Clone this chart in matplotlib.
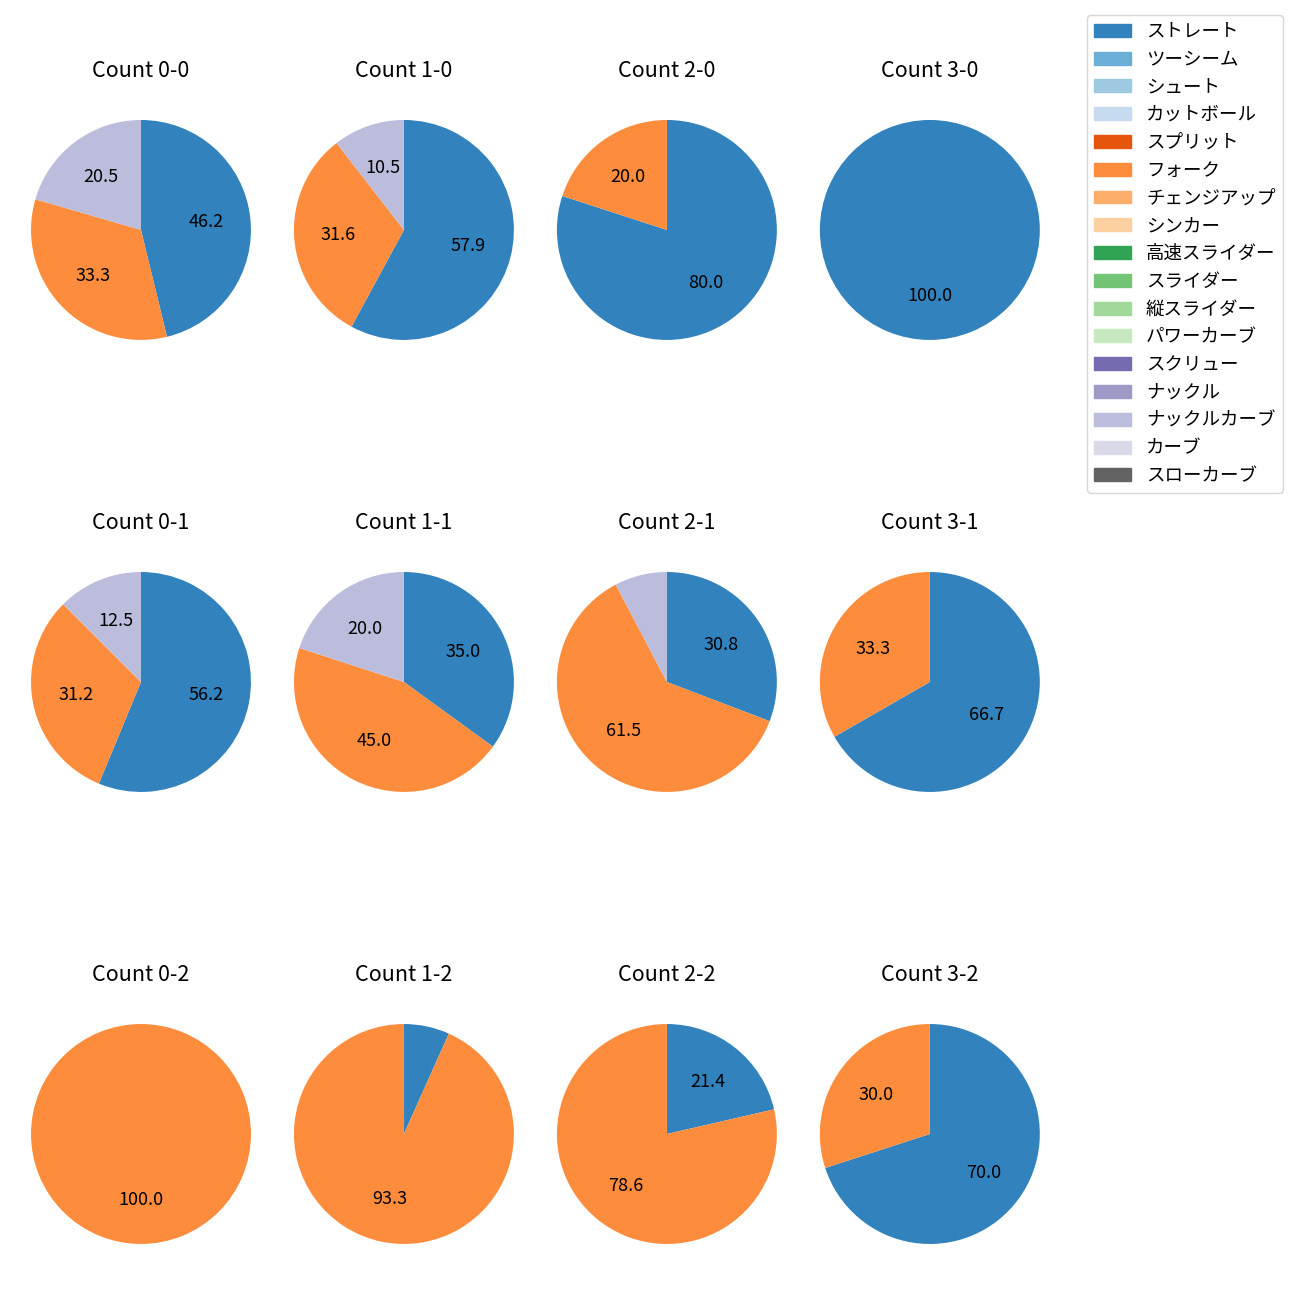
import numpy as np
import matplotlib
matplotlib.use('Agg')
import matplotlib.pyplot as plt
from matplotlib.patches import Patch

plt.rcParams['font.family'] = ['Noto Sans CJK JP', 'DejaVu Sans']

pitch_types = ['ストレート', 'ツーシーム', 'シュート', 'カットボール', 'スプリット',
               'フォーク', 'チェンジアップ', 'シンカー', '高速スライダー', 'スライダー',
               '縦スライダー', 'パワーカーブ', 'スクリュー', 'ナックル', 'ナックルカーブ',
               'カーブ', 'スローカーブ']

counts = ['0-0', '1-0', '2-0', '3-0',
          '0-1', '1-1', '2-1', '3-1',
          '0-2', '1-2', '2-2', '3-2']

# share (%) per count: ストレート, フォーク, ナックルカーブ
straight = [46.2, 57.9, 80.0, 100.0, 56.25, 35.0, 30.8, 66.7, 0.0, 6.7, 21.4, 70.0]
fork = [33.3, 31.6, 20.0, 0.0, 31.25, 45.0, 61.5, 33.3, 100.0, 93.3, 78.6, 30.0]
knuckle_curve = [20.5, 10.5, 0.0, 0.0, 12.5, 20.0, 7.7, 0.0, 0.0, 0.0, 0.0, 0.0]

cmap = plt.get_cmap('tab20c')
colors = [cmap(i) for i in range(17)]
color_of = dict(zip(pitch_types, colors))

fig, axes = plt.subplots(3, 4, figsize=(13, 13), dpi=100)
plt.subplots_adjust(left=0.0027, right=0.821, top=0.9385, bottom=0.0123,
                    wspace=-0.0436, hspace=0.5067)


def pct_label(p):
    return '%.1f' % p if p >= 10 else ''


for i, ax in enumerate(axes.flat):
    vals = [straight[i], fork[i], knuckle_curve[i]]
    names = ['ストレート', 'フォーク', 'ナックルカーブ']
    v = [x for x in vals if x > 0]
    c = [color_of[n] for n, x in zip(names, vals) if x > 0]
    ax.pie(v, colors=c, startangle=90, counterclock=False,
           autopct=pct_label, pctdistance=0.6, textprops={'fontsize': 13})
    ax.set_title('Count ' + counts[i], fontsize=15.5, pad=11)

handles = [Patch(color=color_of[n]) for n in pitch_types]
fig.legend(handles, pitch_types, loc='upper right',
           bbox_to_anchor=(0.994, 0.9953), fontsize=13.3, labelspacing=0.53)

plt.savefig('out.png')
